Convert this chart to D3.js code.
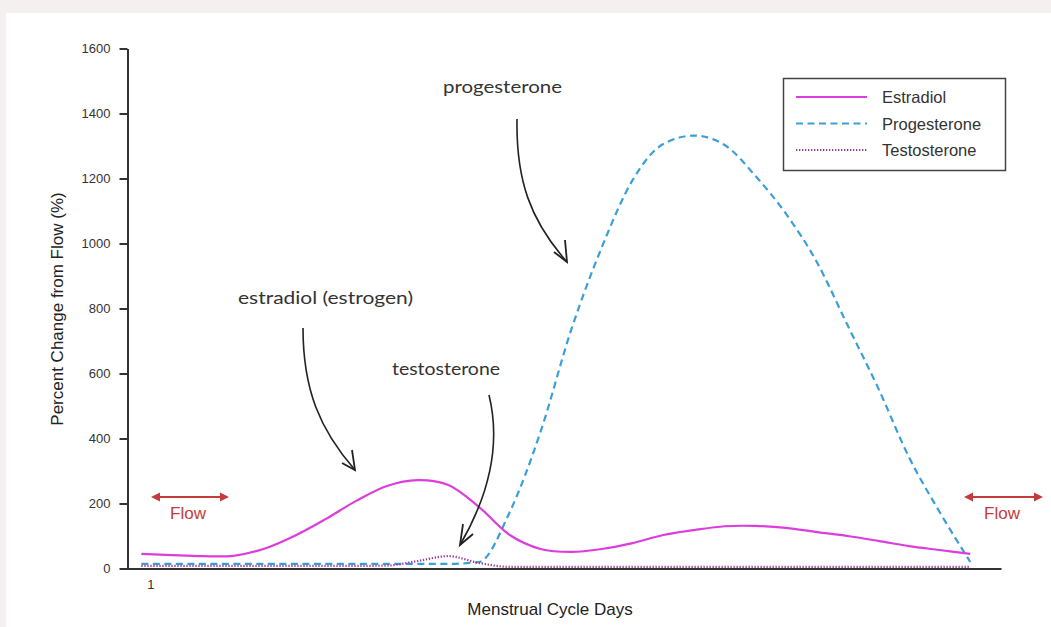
<!DOCTYPE html>
<html><head><meta charset="utf-8">
<script src="https://cdn.jsdelivr.net/npm/d3@7/dist/d3.min.js"></script>
<style>body{margin:0;background:#f5f0f0;} svg{display:block}</style>
</head><body><svg id="c" width="1051" height="627"></svg>
<script>
// ---- data ----
const days = d3.range(1, 29);
const estradiol =    [45,41,38,39,61,101,152,208,254,272,257,189,103,60,51,60,78,103,118,130,131,125,112,100,85,69,57,45];
const progesterone = [14,14,14,14,14,14,14,14,14,14,14,20,174,420,734,989,1195,1306,1332,1303,1208,1091,943,749,555,343,174,20];
const testosterone = [8,8,8,8,8,8,8,8,9,23,38,17,5,5,5,5,5,5,5,5,5,5,5,5,5,5,5,5];
const seriesNames = ["Estradiol", "Progesterone", "Testosterone"];
const yTicks = [0,200,400,600,800,1000,1200,1400,1600];
const xTicks = [1];
const annotations = ["progesterone", "estradiol (estrogen)", "testosterone"];

// ---- layout ----
const svg = d3.select("#c");
svg.append("rect").attr("x",6).attr("y",13).attr("width",1045).attr("height",614).attr("fill","#fff");

const x = d3.scaleLinear().domain([0.5, 29]).range([126, 1001]);
const y = d3.scaleLinear().domain([0, 1600]).range([568.5, 48.5]);

const styles = {
  Estradiol:    {color:"#dc3ddc", dash:null, width:2.2, curve:d3.curveCatmullRom.alpha(0.5)},
  Progesterone: {color:"#3a9fd6", dash:"7,4.5", width:2.2, curve:d3.curveMonotoneX},
  Testosterone: {color:"#9b3a92", dash:"1.3,1.7", width:2.2, curve:d3.curveMonotoneX}
};
const valuesOf = {Estradiol: estradiol, Progesterone: progesterone, Testosterone: testosterone};
const sans = "Liberation Sans, Arial, sans-serif";

// axes
const yAxis = svg.append("g").attr("transform","translate(127.5,0)")
  .call(d3.axisLeft(y).tickValues(yTicks).tickSize(8).tickPadding(9).tickSizeOuter(0).tickFormat(d3.format("d")));
yAxis.select(".domain").attr("stroke","#333").attr("stroke-width",2);
yAxis.selectAll(".tick line").attr("stroke","#333").attr("stroke-width",2);
yAxis.selectAll("text").attr("font-family",sans).attr("font-size",13).attr("fill","#333");

const xAxis = svg.append("g").attr("transform","translate(0,568.5)")
  .call(d3.axisBottom(x).tickValues(xTicks).tickSize(0).tickPadding(11).tickSizeOuter(0).tickFormat(d3.format("d")));
xAxis.select(".domain").attr("stroke","#333").attr("stroke-width",2);
xAxis.selectAll("text").attr("font-family",sans).attr("font-size",13).attr("fill","#333").attr("dx",9);

// axis titles
svg.append("text").attr("transform","translate(63,309) rotate(-90)").attr("text-anchor","middle")
  .attr("font-family",sans).attr("font-size",17).attr("fill","#222")
  .text("Percent Change from Flow (%)");
svg.append("text").attr("x",550).attr("y",615).attr("text-anchor","middle")
  .attr("font-family",sans).attr("font-size",17).attr("fill","#222")
  .text("Menstrual Cycle Days");

// lines
["Progesterone","Testosterone","Estradiol"].forEach(n=>{
  const s = styles[n];
  const line = d3.line().x((d,i)=>x(days[i])).y(d=>y(d)).curve(s.curve);
  svg.append("path").datum(valuesOf[n]).attr("d",line).attr("fill","none")
    .attr("stroke",s.color).attr("stroke-width",s.width).attr("stroke-dasharray",s.dash);
});

// legend
const lg = svg.append("g");
lg.append("rect").attr("x",783.5).attr("y",78.5).attr("width",222).attr("height",92)
  .attr("fill","#fff").attr("stroke","#444").attr("stroke-width",1.5);
seriesNames.forEach((n,i)=>{
  const yy = 97 + i*26.5, s = styles[n];
  lg.append("line").attr("x1",796).attr("x2",867).attr("y1",yy).attr("y2",yy)
    .attr("stroke",s.color).attr("stroke-width",s.width).attr("stroke-dasharray",s.dash);
  lg.append("text").attr("x",882).attr("y",yy+6).attr("font-family",sans)
    .attr("font-size",16.5).attr("fill","#333").text(n);
});

// annotations
const annFont = "Lato, 'Open Sans', sans-serif";
const annPos = [[443,93,119],[238,304,175],[392,375,108]];
annotations.forEach((t,i)=>{
  svg.append("text").attr("x",annPos[i][0]).attr("y",annPos[i][1]).attr("font-family",annFont)
    .attr("font-size",18).attr("fill","#333").attr("textLength",annPos[i][2]).attr("lengthAdjust","spacingAndGlyphs").text(t);
});
const arrows = [
  {d:"M517,119 C516,180 530,220 567,262", a1:[554,252], a2:[565,240], tip:[567,262]},
  {d:"M303,328 C303,390 320,430 355,470", a1:[342,463], a2:[352,450], tip:[355,470]},
  {d:"M489,395 C500,440 492,490 460,545", a1:[463,524], a2:[473,534], tip:[460,545]}
];
arrows.forEach(a=>{
  svg.append("path").attr("d",a.d).attr("fill","none").attr("stroke","#222").attr("stroke-width",1.6);
  svg.append("path").attr("d",`M${a.a1[0]},${a.a1[1]} L${a.tip[0]},${a.tip[1]} L${a.a2[0]},${a.a2[1]}`)
    .attr("fill","none").attr("stroke","#222").attr("stroke-width",1.8).attr("stroke-linejoin","miter");
});

// flow arrows
const red = "#c43b3b";
function dblArrow(x1,x2,yy){
  svg.append("line").attr("x1",x1+6).attr("x2",x2-6).attr("y1",yy).attr("y2",yy).attr("stroke",red).attr("stroke-width",2);
  svg.append("path").attr("d",`M${x1},${yy} L${x1+9},${yy-4.5} L${x1+9},${yy+4.5} Z`).attr("fill",red);
  svg.append("path").attr("d",`M${x2},${yy} L${x2-9},${yy-4.5} L${x2-9},${yy+4.5} Z`).attr("fill",red);
}
dblArrow(151,229,497);
dblArrow(964,1043,497);
[[188,519],[1002,519]].forEach(p=>{
  svg.append("text").attr("x",p[0]).attr("y",p[1]).attr("text-anchor","middle")
    .attr("font-family",sans).attr("font-size",17).attr("fill",red).text("Flow");
});
</script></body></html>
